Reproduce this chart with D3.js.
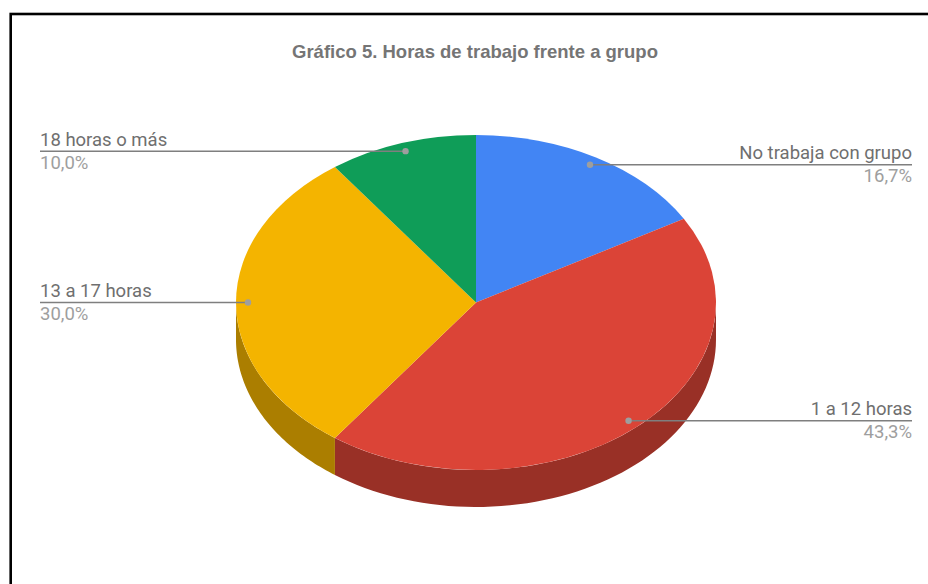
<!DOCTYPE html>
<html>
<head>
<meta charset="utf-8">
<script src="https://cdn.jsdelivr.net/npm/d3@7"></script>
<style>
  html, body { margin: 0; padding: 0; background: #fff; }
  svg { display: block; }
</style>
</head>
<body>
<svg id="chart" width="928" height="584"></svg>
<script>
// datos del gráfico
const categories = ["No trabaja con grupo", "1 a 12 horas", "13 a 17 horas", "18 horas o más"];
const values = [5, 13, 9, 3];
const percentLabels = ["16,7%", "43,3%", "30,0%", "10,0%"];
const colors = ["#4285f4", "#db4437", "#f4b400", "#0f9d58"];
const sideColors = ["#2e5dab", "#993026", "#ab7e00", "#0a6e3e"];

(function renderPie3D() {
  const svg = d3.select("#chart"),
    width = +svg.attr("width"),
    height = +svg.attr("height");

  // marco
  svg.append("rect")
    .attr("x", 10.7).attr("y", 14)
    .attr("width", width + 20).attr("height", height + 20)
    .attr("fill", "none")
    .attr("stroke", "#000")
    .attr("stroke-width", 2.6);

  svg.append("text")
    .attr("x", 475)
    .attr("y", 58)
    .attr("text-anchor", "middle")
    .attr("font-family", "'Liberation Sans', Arial, sans-serif")
    .attr("font-weight", "bold")
    .attr("font-size", 18.5)
    .attr("fill", "#757575")
    .text("Gráfico 5. Horas de trabajo frente a grupo");

  const cx = 476, cy = 302.5, rx = 240, ry = 167.5, depth = 37;

  const pie = d3.pie().sort(null).value(d => d);
  const arcsData = pie(values);

  // punto en la elipse, ángulo desde arriba en sentido horario
  const pt = (a, f = 1, dy = 0) => [cx + f * rx * Math.sin(a), cy - f * ry * Math.cos(a) + dy];

  // paredes laterales (solo la mitad frontal)
  const sideG = svg.append("g");
  const line = d3.line();
  arcsData.forEach((d, i) => {
    const a0 = Math.max(d.startAngle, Math.PI / 2);
    const a1 = Math.min(d.endAngle, Math.PI * 3 / 2);
    if (a1 <= a0) return;
    const steps = d3.range(0, 61).map(k => a0 + (a1 - a0) * k / 60);
    const pts = steps.map(a => pt(a))
      .concat(steps.slice().reverse().map(a => pt(a, 1, depth)));
    sideG.append("path")
      .attr("d", line(pts) + "Z")
      .attr("fill", sideColors[i]);
  });

  // cara superior
  const arc = d3.arc().innerRadius(0).outerRadius(rx);
  svg.append("g")
    .attr("transform", `translate(${cx},${cy}) scale(1,${ry / rx})`)
    .selectAll("path")
    .data(arcsData)
    .enter()
    .append("path")
    .attr("d", arc)
    .attr("fill", (d, i) => colors[i]);

  // etiquetas con líneas guía
  const labG = svg.append("g")
    .attr("font-family", "Roboto, sans-serif")
    .attr("font-size", 18.5);
  arcsData.forEach((d, i) => {
    const mid = (d.startAngle + d.endAngle) / 2;
    const p = pt(mid, 0.95);
    const right = Math.sin(mid) > 0;
    const xEnd = right ? 912 : 40;
    labG.append("line")
      .attr("x1", p[0]).attr("y1", p[1])
      .attr("x2", xEnd).attr("y2", p[1])
      .attr("stroke", "#7f7f7f")
      .attr("stroke-width", 1.5);
    labG.append("circle")
      .attr("cx", p[0]).attr("cy", p[1])
      .attr("r", 3.2)
      .attr("fill", "#9e9e9e");
    labG.append("text")
      .attr("x", xEnd).attr("y", p[1] - 5.5)
      .attr("text-anchor", right ? "end" : "start")
      .attr("fill", "#6f6f6f")
      .text(categories[i]);
    labG.append("text")
      .attr("x", xEnd).attr("y", p[1] + 17.5)
      .attr("text-anchor", right ? "end" : "start")
      .attr("fill", "#9e9e9e")
      .text(percentLabels[i]);
  });
})();
</script>
</body>
</html>
